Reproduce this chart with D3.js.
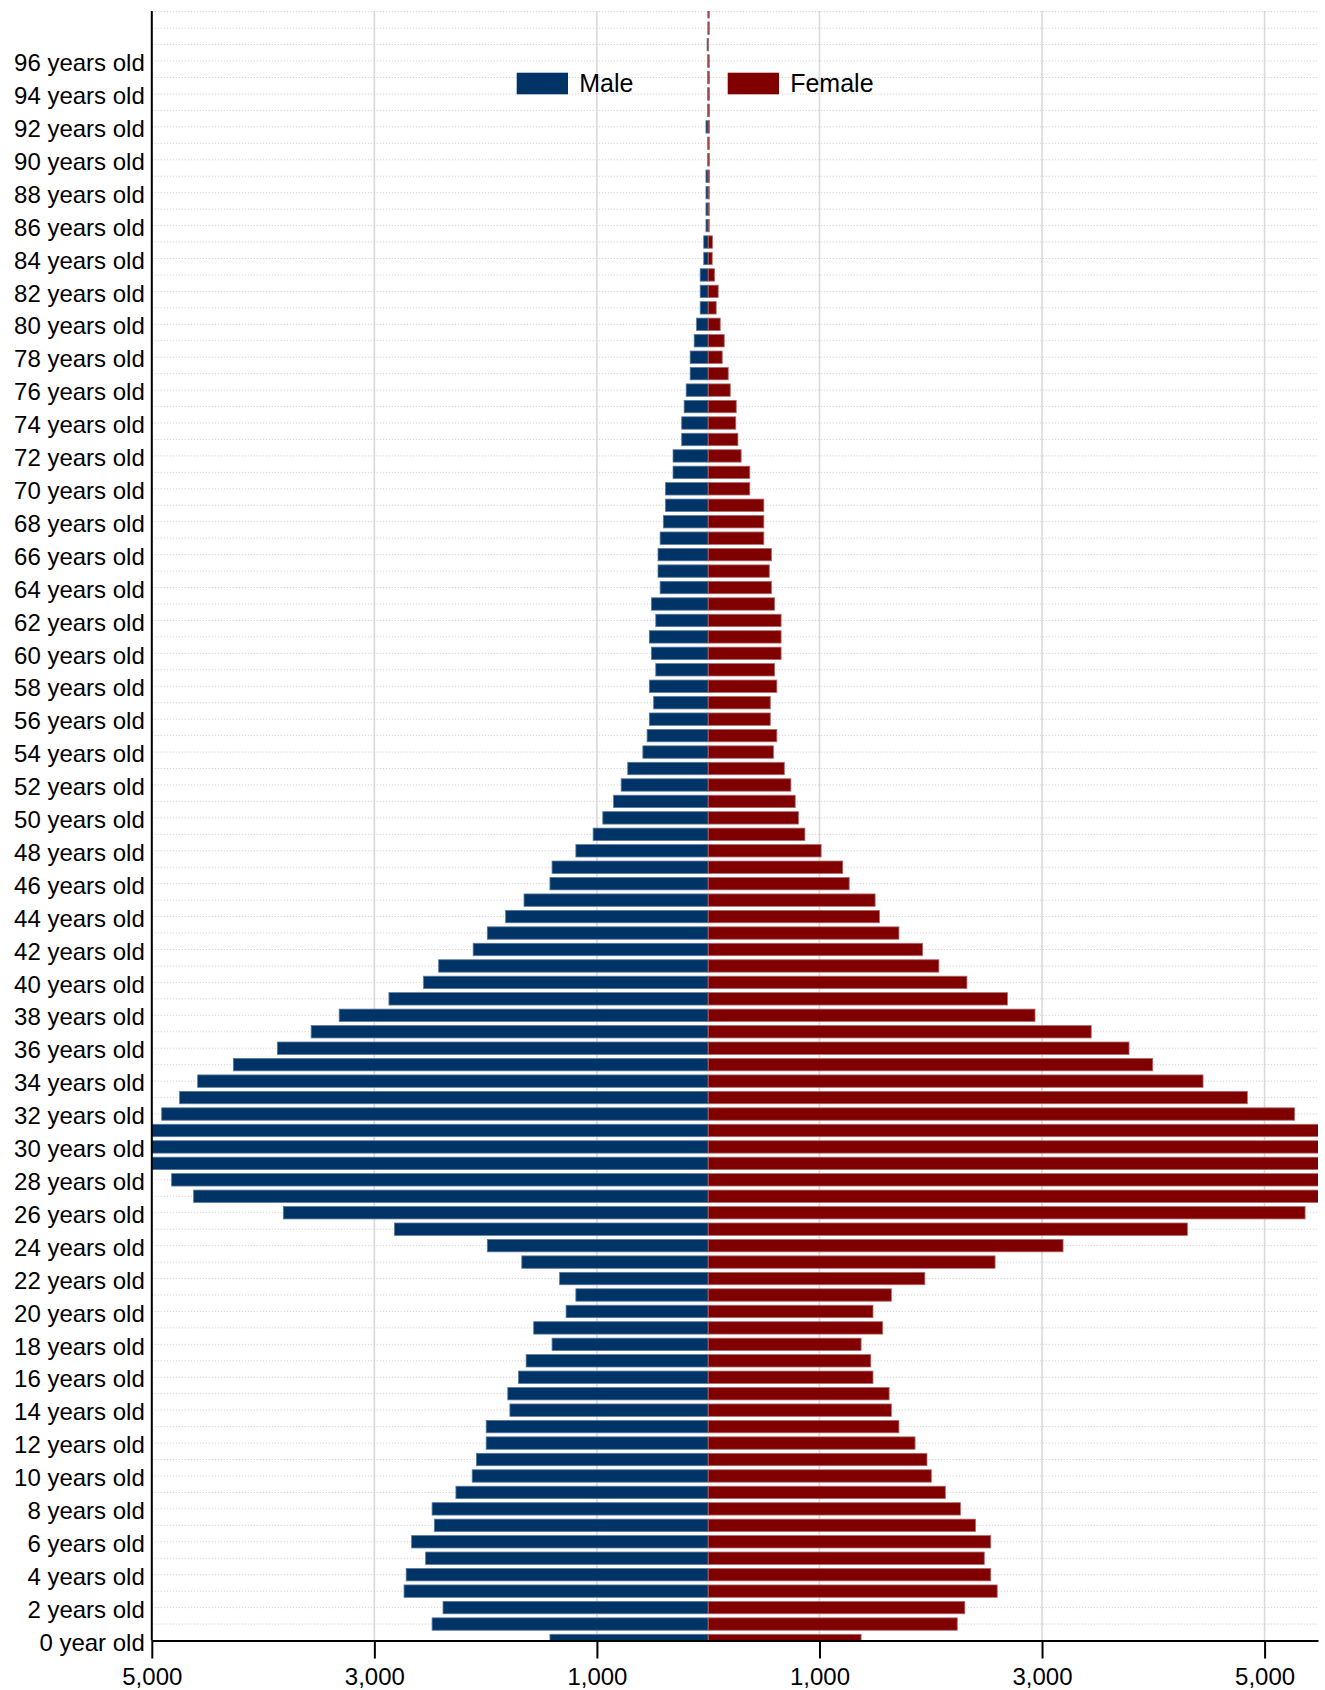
<!DOCTYPE html>
<html lang="en">
<head>
    <meta charset="utf-8">
    <title>Population pyramid</title>
    <script src="https://d3js.org/d3.v7.min.js"></script>
    <style>
        body { margin: 0; background: #fff; }
        svg { display: block; font-family: "Liberation Sans", Arial, sans-serif; }
        .tick text { fill: #000; }
    </style>
</head>
<body>
    <div id="chart"></div>
    <script>
        // ages 0..99, one bar per age
        const ages = d3.range(0, 100);

        const male = [
            1422, 2481, 2383, 2733, 2714, 2539, 2665, 2461, 2481, 2267,
            2121, 2083, 1995, 1995, 1782, 1801, 1704, 1636, 1403, 1568,
            1277, 1189, 1335, 1675, 1985, 2820, 3818, 4624, 4822, 5150,
            5250, 5100, 4911, 4750, 4588, 4267, 3872, 3568, 3316, 2869,
            2558, 2422, 2112, 1985, 1820, 1655, 1422, 1403, 1189, 1034,
            947, 850, 782, 723, 587, 549, 529, 490, 529, 471,
            510, 529, 471, 510, 432, 451, 451, 432, 403, 383,
            383, 316, 316, 238, 238, 216, 198, 162, 162, 126,
            105, 72, 72, 72, 40, 40, 20, 20, 20, 20,
            5, 5, 20, 5, 5, 5, 5, 10, 3, 3
        ];

        const female = [
            1374, 2238, 2306, 2597, 2539, 2481, 2539, 2403, 2267, 2131,
            2005, 1966, 1859, 1714, 1646, 1626, 1481, 1461, 1374, 1568,
            1481, 1646, 1947, 2578, 3189, 4306, 5364, 5600, 5800, 5900,
            5850, 5650, 5270, 4845, 4447, 3995, 3782, 3442, 2937, 2689,
            2325, 2073, 1927, 1714, 1539, 1500, 1267, 1209, 1015, 869,
            811, 782, 743, 684, 587, 617, 558, 558, 617, 597,
            655, 655, 655, 597, 568, 549, 568, 500, 500, 500,
            374, 374, 296, 267, 248, 252, 198, 180, 126, 144,
            108, 72, 90, 57, 36, 38, 10, 10, 10, 12,
            12, 10, 12, 12, 12, 12, 10, 3, 10, 10
        ];

        const xTicks = [-5000, -3000, -1000, 1000, 3000, 5000];
        const ageLabels = d3.range(0, 97, 2);
        const seriesNames = ["Male", "Female"];
        const colors = { Male: "#003366", Female: "#800000" };

        const width = 1325;
        const height = 1690;
        const plotLeft = 151.8, plotRight = 1318, plotTop = 11.7, plotBottom = 1640.5;

        const svg = d3.select("#chart")
            .append("svg")
            .attr("width", width)
            .attr("height", height);

        const x = d3.scaleLinear()
            .domain([-5000, 5480])
            .range([plotLeft, plotRight]);

        const y = d3.scaleLinear()
            .domain([0, 99])
            .range([plotBottom, plotTop]);

        const barH = 12.4;

        svg.append("defs").append("clipPath")
            .attr("id", "plot-clip")
            .append("rect")
            .attr("x", plotLeft)
            .attr("y", 11)
            .attr("width", plotRight - plotLeft)
            .attr("height", plotBottom - 11);

        // vertical gridlines
        svg.append("g")
            .selectAll("line")
            .data(xTicks)
            .join("line")
            .attr("x1", d => x(d))
            .attr("x2", d => x(d))
            .attr("y1", 11)
            .attr("y2", plotBottom)
            .attr("stroke", "#dadada")
            .attr("stroke-width", 1.6);

        // dotted row lines
        svg.append("g")
            .selectAll("line")
            .data(ages)
            .join("line")
            .attr("x1", plotLeft)
            .attr("x2", plotRight)
            .attr("y1", d => y(d))
            .attr("y2", d => y(d))
            .attr("stroke", "#c8c8c8")
            .attr("stroke-width", 1)
            .attr("stroke-dasharray", "1,2");

        const bars = svg.append("g").attr("clip-path", "url(#plot-clip)");

        // male bars go left of zero
        bars.selectAll("rect.male")
            .data(ages)
            .join("rect")
            .attr("class", "male")
            .attr("x", d => x(-male[d]))
            .attr("y", d => y(d) - barH / 2)
            .attr("width", d => x(0) - x(-male[d]))
            .attr("height", barH)
            .attr("fill", colors.Male)
            .attr("stroke", "#5a7ba0")
            .attr("stroke-width", 0.8);

        bars.selectAll("rect.female")
            .data(ages)
            .join("rect")
            .attr("class", "female")
            .attr("x", x(0))
            .attr("y", d => y(d) - barH / 2)
            .attr("width", d => x(female[d]) - x(0))
            .attr("height", barH)
            .attr("fill", colors.Female)
            .attr("stroke", "#b06a6a")
            .attr("stroke-width", 0.8);

        // axes
        const xAxis = svg.append("g")
            .attr("transform", `translate(0,${plotBottom})`)
            .call(d3.axisBottom(x)
                .tickValues(xTicks)
                .tickFormat(d => d3.format(",")(Math.abs(d)))
                .tickSize(18)
                .tickSizeOuter(0)
                .tickPadding(9));
        xAxis.select(".domain").attr("stroke", "#000").attr("stroke-width", 2);
        xAxis.selectAll(".tick line").attr("stroke", "#000").attr("stroke-width", 2);
        xAxis.selectAll(".tick text").attr("font-size", 24);

        const yAxis = svg.append("g")
            .attr("transform", `translate(${plotLeft},0)`)
            .call(d3.axisLeft(y)
                .tickValues(ageLabels)
                .tickFormat(d => d === 0 ? "0 year old" : d + " years old")
                .tickSize(0)
                .tickSizeOuter(0)
                .tickPadding(7));
        yAxis.select(".domain")
            .attr("d", `M0,11V${plotBottom}`)
            .attr("stroke", "#000").attr("stroke-width", 2);
        yAxis.selectAll(".tick text")
            .attr("font-size", 24)
            .attr("y", 2);

        // legend
        const legendX = [516.7, 727.7];
        const legend = svg.append("g")
            .selectAll("g")
            .data(seriesNames)
            .join("g")
            .attr("transform", (d, i) => `translate(${legendX[i]},72.7)`);
        legend.append("rect")
            .attr("width", 51.3)
            .attr("height", 21.6)
            .attr("fill", d => colors[d]);
        legend.append("text")
            .attr("x", 62.5)
            .attr("y", 19)
            .attr("font-size", 25)
            .attr("fill", "#000")
            .text(d => d);
    </script>
</body>
</html>
